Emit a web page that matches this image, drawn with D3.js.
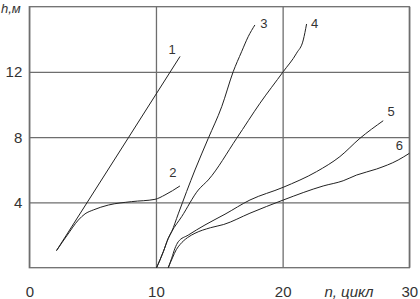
<!DOCTYPE html>
<html>
<head>
<meta charset="utf-8">
<script src="https://cdn.jsdelivr.net/npm/d3@7"></script>
<style>
  body { margin: 0; background: #fff; }
  svg { display: block; font-family: 'Liberation Sans', Arial, sans-serif; }
  .tick text { fill: #333; font-size: 15px; }
  .grid line { stroke: #6e6e6e; stroke-width: 1.3; }
  .curve { fill: none; stroke: #222; stroke-width: 1; }
  .lbl { fill: #333; font-size: 13px; }
</style>
</head>
<body>
<svg width="420" height="299"></svg>
<script>
// ticks
const xTicks = [0, 10, 20, 30];
const yTicks = [4, 8, 12];

// curves: [n, h]
const curve1 = [[2.15, 1.05], [7.85, 8.0], [11.9, 12.95]];
const curve2 = [[2.15, 1.05], [3.0, 2.0], [3.87, 2.92], [4.4, 3.3], [5.05, 3.54], [6.24, 3.84], [8.08, 4.05], [9.92, 4.19], [10.71, 4.46], [11.89, 5.01]];
const curve3 = [[10.05, 0], [10.58, 0.98], [10.97, 1.8], [11.24, 2.21], [11.76, 3.3], [13.08, 5.99], [14.13, 7.93], [15.19, 9.87], [16.1, 12.02], [16.76, 13.24], [17.28, 14.16], [17.81, 14.88]];
const curve4 = [[10.05, 0], [10.58, 0.98], [10.97, 1.8], [11.24, 2.21], [12.03, 3.13], [13.34, 4.76], [14.13, 5.38], [16.37, 7.93], [18.21, 10.08], [20.05, 12.02], [21.1, 13.15], [21.63, 13.96], [21.89, 14.94]];
const curve5 = [[10.97, 0], [11.24, 0.58], [11.5, 1.19], [11.76, 1.59], [12.55, 2.0], [13.87, 2.62], [15.45, 3.28], [17.42, 4.15], [20.05, 4.93], [22.68, 5.89], [24.52, 6.81], [26.1, 7.93], [27.94, 9.01]];
const curve6 = [[10.97, 0], [11.3, 0.6], [11.6, 1.1], [11.9, 1.42], [12.5, 1.85], [13.08, 2.11], [14.3, 2.45], [15.35, 2.65], [17.42, 3.34], [20.05, 4.15], [23.2, 5.01], [24.78, 5.33], [25.84, 5.68], [27.42, 6.05], [29.12, 6.6], [30, 7.01]];

const curves = [curve1, curve2, curve3, curve4, curve5, curve6];
const curveNames = ['1', '2', '3', '4', '5', '6'];
// label offset from curve end, px
const labelOffsets = [[-8, -7], [-7, -13], [9, -1], [8, 0], [8, -9], [-10, -8]];

const svg = d3.select('svg');
const width = +svg.attr('width');
const height = +svg.attr('height');
const margin = { top: 6.7, right: 10.7, bottom: 31.3, left: 29.3 };
const innerW = width - margin.left - margin.right;
const innerH = height - margin.top - margin.bottom;

const x = d3.scaleLinear().domain([0, 30]).range([0, innerW]);
const y = d3.scaleLinear().domain([0, 16]).range([innerH, 0]);

const g = svg.append('g')
  .attr('transform', `translate(${margin.left},${margin.top})`);

// grid + labels
const xAxis = g.append('g')
  .attr('class', 'grid')
  .attr('transform', `translate(0,${innerH})`)
  .call(d3.axisBottom(x).tickValues(xTicks).tickSize(-innerH).tickPadding(19));
xAxis.select('.domain').remove();

const yAxis = g.append('g')
  .attr('class', 'grid')
  .call(d3.axisLeft(y).tickValues(yTicks).tickSize(-innerW).tickPadding(7));
yAxis.select('.domain').remove();

g.append('rect')
  .attr('width', innerW).attr('height', innerH)
  .attr('fill', 'none').attr('stroke', '#6e6e6e').attr('stroke-width', 1.3);

const line = d3.line()
  .x(d => x(d[0]))
  .y(d => y(d[1]))
  .curve(d3.curveMonotoneX);

g.selectAll('.curve').data(curves)
  .enter().append('path')
    .attr('class', 'curve')
    .attr('d', line);

g.selectAll('.lbl').data(curves)
  .enter().append('text')
    .attr('class', 'lbl')
    .attr('text-anchor', 'middle')
    .attr('dominant-baseline', 'central')
    .attr('x', (d, i) => x(d[d.length - 1][0]) + labelOffsets[i][0])
    .attr('y', (d, i) => y(d[d.length - 1][1]) + labelOffsets[i][1])
    .text((d, i) => curveNames[i]);

// axis titles
svg.append('text')
  .attr('x', 349).attr('y', 297)
  .attr('text-anchor', 'middle')
  .attr('font-style', 'italic')
  .attr('font-size', 15)
  .attr('fill', '#333')
  .text('n, цикл');

svg.append('text')
  .attr('x', 1).attr('y', 12.5)
  .attr('font-style', 'italic')
  .attr('font-size', 13)
  .attr('fill', '#333')
  .text('h,м');
</script>
</body>
</html>
